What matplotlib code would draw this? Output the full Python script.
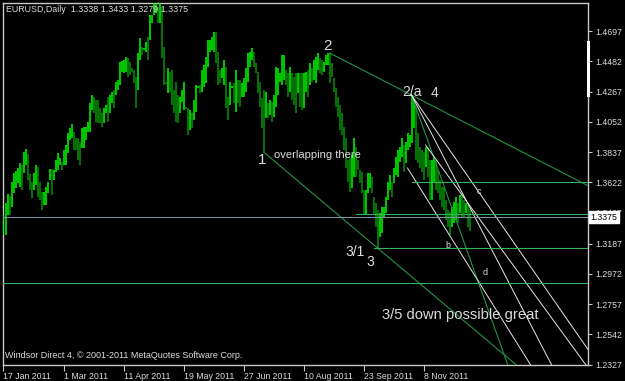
import matplotlib
matplotlib.use("Agg")
import matplotlib.pyplot as plt
import matplotlib.transforms as mtransforms

# EURUSD daily, 17 Jan 2011 .. early Dec 2011
highs = [
    1.3391, 1.3476, 1.3540, 1.3526, 1.3625, 1.3689, 1.3703, 1.3724, 1.3760, 1.3746,
    1.3838, 1.3859, 1.3824, 1.3682, 1.3625, 1.3689, 1.3746, 1.3731, 1.3625, 1.3554,
    1.3554, 1.3589, 1.3625, 1.3717, 1.3717, 1.3710, 1.3781, 1.3831, 1.3795, 1.3767,
    1.3852, 1.3888, 1.3973, 1.4008, 1.4037, 1.3980, 1.3937, 1.3937, 1.3909, 1.4008,
    1.4015, 1.4015, 1.4051, 1.4186, 1.4242, 1.4228, 1.4207, 1.4207, 1.4150, 1.4115,
    1.4150, 1.4172, 1.4228, 1.4242, 1.4264, 1.4278, 1.4335, 1.4349, 1.4477, 1.4484,
    1.4491, 1.4512, 1.4505, 1.4477, 1.4434, 1.4420, 1.4370, 1.4541, 1.4647, 1.4583,
    1.4576, 1.4619, 1.4654, 1.4811, 1.4811, 1.4900, 1.4938, 1.4867, 1.4931, 1.4867,
    1.4583, 1.4335, 1.4434, 1.4406, 1.4420, 1.4278, 1.4335, 1.4242, 1.4228, 1.4278,
    1.4335, 1.4157, 1.4150, 1.4136, 1.4115, 1.4207, 1.4314, 1.4306, 1.4314, 1.4420,
    1.4456, 1.4512, 1.4633, 1.4633, 1.4654, 1.4690, 1.4690, 1.4548, 1.4420, 1.4434,
    1.4491, 1.4441, 1.4228, 1.4335, 1.4306, 1.4328, 1.4420, 1.4349, 1.4349, 1.4328,
    1.4363, 1.4434, 1.4541, 1.4548, 1.4576, 1.4548, 1.4470, 1.4406, 1.4335, 1.4221,
    1.4278, 1.4264, 1.4186, 1.4207, 1.4193, 1.4242, 1.4441, 1.4434, 1.4399, 1.4527,
    1.4527, 1.4420, 1.4399, 1.4441, 1.4399, 1.4370, 1.4399, 1.4399, 1.4399, 1.4399,
    1.4399, 1.4406, 1.4420, 1.4470, 1.4434, 1.4491, 1.4512, 1.4541, 1.4505, 1.4491,
    1.4477, 1.4527, 1.4541, 1.4541, 1.4470, 1.4363, 1.4292, 1.4228, 1.4172, 1.4115,
    1.4015, 1.3937, 1.3781, 1.3795, 1.3817, 1.3937, 1.3873, 1.3781, 1.3710, 1.3696,
    1.3568, 1.3568, 1.3689, 1.3689, 1.3660, 1.3518, 1.3476, 1.3426, 1.3405, 1.3447,
    1.3447, 1.3518, 1.3625, 1.3675, 1.3625, 1.3724, 1.3802, 1.3852, 1.3873, 1.3937,
    1.3888, 1.3909, 1.3973, 1.3959, 1.4242, 1.4207, 1.4157, 1.3973, 1.3873, 1.3852,
    1.3838, 1.3873, 1.3866, 1.3781, 1.3781, 1.3802, 1.3781, 1.3710, 1.3639, 1.3589,
    1.3589, 1.3497, 1.3426, 1.3412, 1.3447, 1.3483, 1.3518, 1.3476, 1.3533, 1.3547,
    1.3497, 1.3476, 1.3462, 1.3433,
]
lows = [
    1.3249, 1.3249, 1.3391, 1.3391, 1.3447, 1.3547, 1.3582, 1.3618, 1.3589, 1.3568,
    1.3689, 1.3746, 1.3639, 1.3568, 1.3511, 1.3568, 1.3604, 1.3518, 1.3497, 1.3426,
    1.3462, 1.3462, 1.3547, 1.3639, 1.3533, 1.3639, 1.3696, 1.3710, 1.3746, 1.3710,
    1.3746, 1.3746, 1.3831, 1.3923, 1.3937, 1.3852, 1.3852, 1.3781, 1.3746, 1.3866,
    1.3866, 1.3923, 1.3980, 1.3980, 1.4136, 1.4115, 1.4051, 1.4044, 1.4044, 1.4015,
    1.4044, 1.4115, 1.4051, 1.4115, 1.4186, 1.4150, 1.4242, 1.4278, 1.4314, 1.4406,
    1.4399, 1.4406, 1.4370, 1.4385, 1.4406, 1.4328, 1.4150, 1.4278, 1.4491, 1.4527,
    1.4562, 1.4548, 1.4491, 1.4633, 1.4754, 1.4811, 1.4825, 1.4754, 1.4754, 1.4505,
    1.4314, 1.4321, 1.4257, 1.4264, 1.4172, 1.4115, 1.4051, 1.4044, 1.4115, 1.4193,
    1.4136, 1.4143, 1.3959, 1.3994, 1.4008, 1.4065, 1.4122, 1.4292, 1.4257, 1.4264,
    1.4299, 1.4328, 1.4441, 1.4548, 1.4562, 1.4548, 1.4470, 1.4314, 1.4328, 1.4363,
    1.4314, 1.4150, 1.4065, 1.4172, 1.4292, 1.4186, 1.4122, 1.4186, 1.4157, 1.4228,
    1.4228, 1.4264, 1.4335, 1.4441, 1.4491, 1.4441, 1.4399, 1.4257, 1.4157, 1.4008,
    1.3838, 1.4079, 1.4079, 1.4101, 1.4051, 1.4086, 1.4157, 1.4242, 1.4335, 1.4314,
    1.4349, 1.4314, 1.4228, 1.4264, 1.4207, 1.4172, 1.4115, 1.4257, 1.4157, 1.4136,
    1.4150, 1.4264, 1.4228, 1.4314, 1.4335, 1.4349, 1.4328, 1.4420, 1.4399, 1.4385,
    1.4406, 1.4456, 1.4456, 1.4328, 1.4370, 1.4264, 1.4157, 1.4086, 1.3994, 1.3959,
    1.3852, 1.3724, 1.3625, 1.3554, 1.3582, 1.3660, 1.3660, 1.3710, 1.3618, 1.3547,
    1.3391, 1.3391, 1.3547, 1.3582, 1.3547, 1.3391, 1.3305, 1.3156, 1.3234, 1.3263,
    1.3376, 1.3405, 1.3497, 1.3568, 1.3518, 1.3618, 1.3675, 1.3660, 1.3767, 1.3802,
    1.3696, 1.3760, 1.3852, 1.3873, 1.3902, 1.4008, 1.3781, 1.3760, 1.3724, 1.3696,
    1.3639, 1.3731, 1.3660, 1.3497, 1.3497, 1.3618, 1.3568, 1.3547, 1.3497, 1.3447,
    1.3426, 1.3355, 1.3305, 1.3249, 1.3305, 1.3334, 1.3355, 1.3334, 1.3405, 1.3376,
    1.3376, 1.3405, 1.3305, 1.3279,
]

date_ticks = [0, 30, 60, 90, 120, 150, 180, 210]
date_labels = ["17 Jan 2011", "1 Mar 2011", "11 Apr 2011", "19 May 2011",
               "27 Jun 2011", "10 Aug 2011", "23 Sep 2011", "8 Nov 2011"]
price_ticks = [1.4697, 1.4482, 1.4267, 1.4052, 1.3837, 1.3622, 1.3407,
               1.3187, 1.2972, 1.2757, 1.2542, 1.2327]
bid = 1.3375

# objects drawn by hand on the chart: (bar, price) anchors
green_rays = [((163, 1.4541), (204, 1.4242)),   # 2 -> 2/a
              ((130, 1.3838), (187, 1.3156)),   # 1 -> 3/1
              ((204, 1.4242), (237, 1.2929))]   # 2/a -> d
white_rays = [((204, 1.4242), (252, 1.2929)),
              ((204, 1.4242), (265, 1.2993)),
              ((211, 1.3888), (242, 1.3284)),
              ((202, 1.3724), (237, 1.2929))]
hlines = [(204, 1.3622), (176, 1.3398), (185, 1.3156), (0, 1.2908)]
labels = [("2", 162, 1.4590, 11), ("1", 129.3, 1.3781, 11),
          ("2/a", 204.3, 1.4264, 10), ("4", 215.3, 1.4257, 10),
          ("3/1", 175.8, 1.3128, 10), ("3", 183.3, 1.3057, 10),
          ("c", 237.8, 1.3554, 6.5), ("b", 222.3, 1.3177, 6.5),
          ("d", 240.8, 1.2979, 6.5),
          ("3/5 down possible great", 228.3, 1.2681, 10.6)]

X_MIN, X_MAX = -0.25, 292.25
Y_MIN, Y_MAX = 1.2325, 1.4896
FG = "#c8c8c8"
TXT = "#dcdcdc"
FONT = "Liberation Sans"
SMALL = 6.3

fig = plt.figure(figsize=(6.25, 3.81), dpi=100, facecolor="black")
ax = fig.add_axes([3 / 625, 16 / 381, 585 / 625, 362 / 381], facecolor="black")

# OHLC bars
n = len(highs)
mids = [(h + l) / 2 for h, l in zip(highs, lows)]
cols = []
for i in range(n):
    up = i == 0 or mids[i] >= mids[i - 1]
    cols.append("#00ff00" if up else "#079007")
ax.vlines(range(n), lows, highs, colors=cols, linewidth=1.1, zorder=3)

# trend lines (rays to the right)
def ray(p0, p1, color, lw=0.8):
    (x0, y0), (x1, y1) = p0, p1
    k = (y1 - y0) / (x1 - x0)
    ax.plot([x0, X_MAX + 5], [y0, y0 + k * (X_MAX + 5 - x0)], color=color,
            lw=lw, zorder=4)

for a, b in green_rays:
    ray(a, b, "#23934a")
for a, b in white_rays:
    ray(a, b, "#e6e6e6", 0.7)
for x0, y in hlines:
    ax.plot([x0, X_MAX], [y, y], color="#33b35a", lw=0.8, zorder=4)
ax.axhline(bid, color="#7f92a0", lw=0.8, zorder=4)

for txt, x, y, fs in labels:
    ax.text(x, y, txt, color=TXT, fontsize=fs, family=FONT,
            ha="center", va="center", zorder=5)
ax.text(135.3, 1.3817, "overlapping there", color=TXT, fontsize=8,
        family=FONT, ha="left", va="center", zorder=5)

ax.set_xlim(X_MIN, X_MAX)
ax.set_ylim(Y_MIN, Y_MAX)

for s in ax.spines.values():
    s.set_color(FG)
    s.set_linewidth(1)

ax.yaxis.tick_right()
ax.set_yticks(price_ticks)
ax.set_yticklabels([f"{v:.4f}" for v in price_ticks], family=FONT)
ax.tick_params(axis="y", direction="out", length=3, width=0.8, colors=FG,
               labelcolor=TXT, labelsize=SMALL, pad=2)
ax.set_xticks(date_ticks)
ax.set_xticklabels(date_labels, family=FONT)
ax.tick_params(axis="x", direction="out", length=4, width=0.8, colors=FG,
               labelcolor=TXT, labelsize=SMALL, pad=1)
for t in ax.get_xticklabels():
    t.set_ha("left")

# current price box on the scale
tr = mtransforms.blended_transform_factory(ax.transAxes, ax.transData)
ax.text(1.004, bid, f"{bid:.4f}", transform=tr, color="black", fontsize=SMALL,
        family=FONT, ha="left", va="center", zorder=10, clip_on=False,
        bbox=dict(boxstyle="square,pad=0.2", fc="white", ec="white"))
ax.plot([1.0, 1.0], [1.4619, 1.4243], transform=tr, color="white", lw=2.2,
        clip_on=False, zorder=6)

fig.text(6 / 625, 1 - 10 / 381, "EURUSD,Daily  1.3338 1.3433 1.3279 1.3375",
         color=TXT, fontsize=6.4, family=FONT, ha="left", va="center")
fig.text(5 / 625, 1 - 356 / 381,
         "Windsor Direct 4, \u00a9 2001-2011 MetaQuotes Software Corp.",
         color=TXT, fontsize=6.5, family=FONT, ha="left", va="center")

fig.savefig("out.png", dpi=100, facecolor="black")
